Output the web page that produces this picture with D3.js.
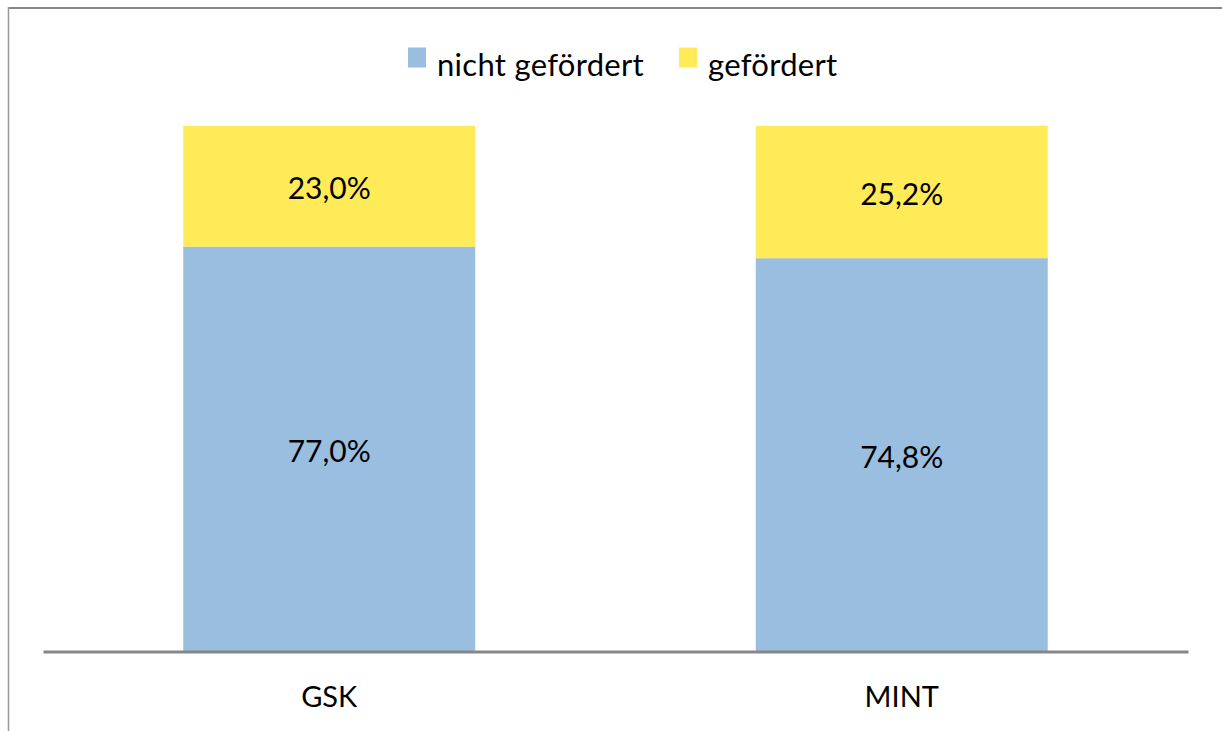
<!DOCTYPE html>
<html>
<head>
<meta charset="utf-8">
<script src="https://cdn.jsdelivr.net/npm/d3@7"></script>
<style>
  html, body { margin: 0; padding: 0; background: #fff; }
  svg { display: block; font-family: Lato, "Liberation Sans", sans-serif; }
</style>
</head>
<body>
<div id="chart"></div>
<script>
// Daten
const categories = ['GSK', 'MINT'];
const seriesNames = ['nicht gefördert', 'gefördert'];
const seriesColors = ['#99bedf', '#ffeb57'];
const nichtGefoerdert = [77.0, 74.8];
const gefoerdert = [23.0, 25.2];

const width = 1222, height = 731;
const plot = { left: 43, right: 1188, top: 125.7, bottom: 651.5 };

const svg = d3.select('#chart').append('svg')
    .attr('width', width)
    .attr('height', height);

// Rahmen (rechts und unten ausserhalb des Bildes)
svg.append('line')
    .attr('x1', 8).attr('y1', 8).attr('x2', width).attr('y2', 8)
    .attr('stroke', '#888').attr('stroke-width', 2);
svg.append('line')
    .attr('x1', 8.5).attr('y1', 7).attr('x2', 8.5).attr('y2', height)
    .attr('stroke', '#999').attr('stroke-width', 1.5);

const x = d3.scaleBand()
    .domain(categories)
    .range([plot.left, plot.right])
    .padding(0);

const barWidth = x.bandwidth() * 0.51;

const y = d3.scaleLinear()
    .domain([0, 100])
    .range([plot.bottom, plot.top]);

const rows = categories.map((c, i) => ({
    cat: c, values: [nichtGefoerdert[i], gefoerdert[i]]
}));

const stack = d3.stack().keys([0, 1]).value((d, k) => d.values[k]);
const layers = stack(rows);

const fmt = v => v.toFixed(1).replace('.', ',') + '%';

layers.forEach((layer, k) => {
    const g = svg.append('g').attr('class', 'series-' + k);
    g.selectAll('rect')
        .data(layer)
        .enter()
        .append('rect')
        .attr('x', d => x(d.data.cat) + x.bandwidth() / 2 - barWidth / 2)
        .attr('y', d => y(d[1]))
        .attr('width', barWidth)
        .attr('height', d => y(d[0]) - y(d[1]))
        .attr('fill', seriesColors[k]);

    g.selectAll('text')
        .data(layer)
        .enter()
        .append('text')
        .attr('x', d => x(d.data.cat) + x.bandwidth() / 2)
        .attr('y', d => (y(d[0]) + y(d[1])) / 2 + 1)
        .attr('text-anchor', 'middle')
        .attr('dominant-baseline', 'central')
        .attr('font-size', '30px')
        .attr('fill', '#000')
        .text(d => fmt(d.data.values[k]));
});

// x-Achse
const xAxis = svg.append('g')
    .attr('transform', `translate(0, ${plot.bottom})`)
    .call(d3.axisBottom(x).tickSize(0).tickPadding(0));
xAxis.select('.domain')
    .attr('stroke', '#878787')
    .attr('stroke-width', 3);
xAxis.selectAll('text')
    .attr('y', 55)
    .attr('dy', 0)
    .attr('font-family', 'Lato, sans-serif')
    .attr('font-size', '29px')
    .attr('fill', '#000');

// Legende
const legend = svg.append('g').attr('class', 'legend');
const legendItems = [
    { name: seriesNames[0], color: seriesColors[0], x: 408 },
    { name: seriesNames[1], color: seriesColors[1], x: 679 }
];
legendItems.forEach(item => {
    legend.append('rect')
        .attr('x', item.x).attr('y', 47.5)
        .attr('width', 18).attr('height', 20)
        .attr('fill', item.color);
    legend.append('text')
        .attr('x', item.x + 29)
        .attr('y', 76)
        .attr('font-size', '31px')
        .attr('letter-spacing', '0.3px')
        .attr('fill', '#000')
        .text(item.name);
});
</script>
</body>
</html>
